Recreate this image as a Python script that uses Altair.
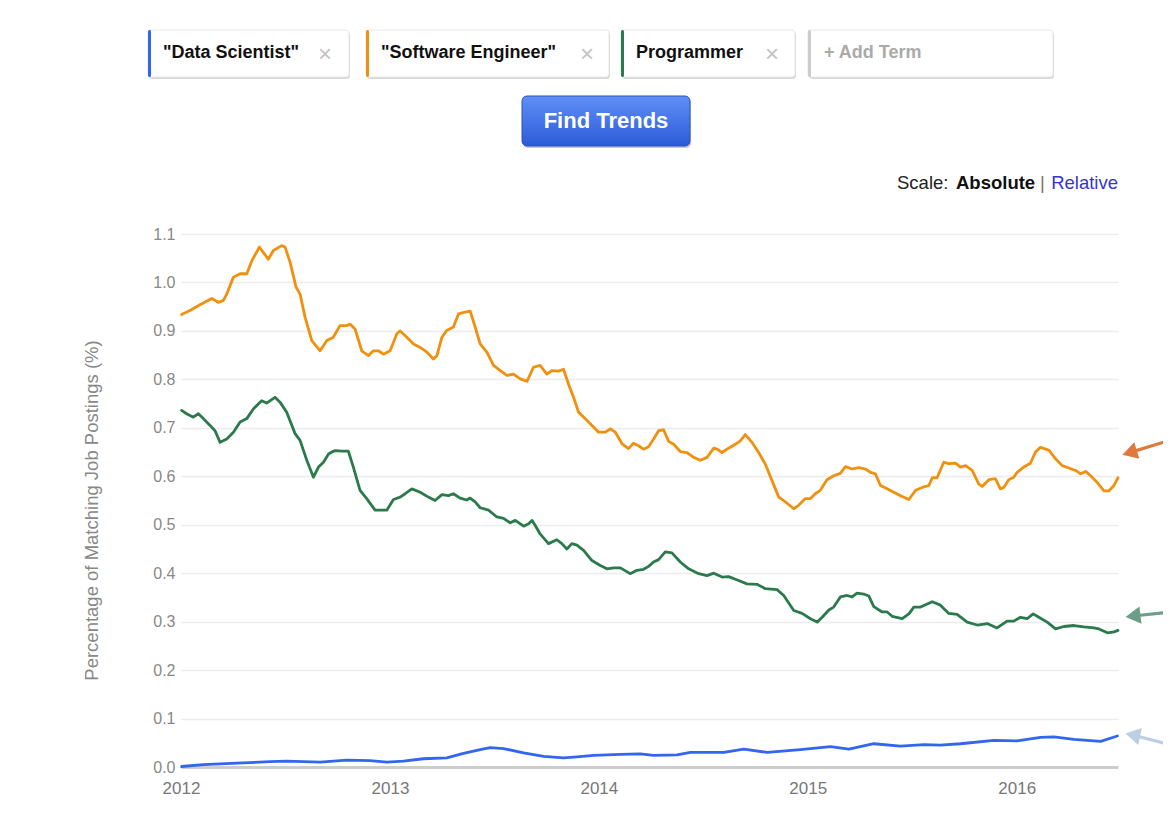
import altair as alt
import pandas as pd

FONT = "Liberation Sans"

# ---------------- data ----------------
terms = ['"Data Scientist"', '"Software Engineer"', 'Programmer']
term_colors = ["#3366ee", "#f0900f", "#2b7a4b"]

ds_year = [2012.003, 2012.107, 2012.267, 2012.426, 2012.506, 2012.666, 2012.794, 2012.905,
           2012.985, 2013.065, 2013.160, 2013.272, 2013.352, 2013.432, 2013.480, 2013.544,
           2013.640, 2013.736, 2013.831, 2013.895, 2013.975, 2014.103, 2014.198, 2014.262,
           2014.374, 2014.438, 2014.598, 2014.694, 2014.806, 2014.965, 2015.109, 2015.197,
           2015.316, 2015.444, 2015.556, 2015.635, 2015.731, 2015.891, 2016.002, 2016.114,
           2016.178, 2016.274, 2016.402, 2016.482]
ds_val = [0.001, 0.005, 0.008, 0.011, 0.012, 0.010, 0.014, 0.013,
          0.010, 0.012, 0.017, 0.019, 0.028, 0.036, 0.040, 0.038,
          0.029, 0.022, 0.019, 0.021, 0.024, 0.026, 0.027, 0.024,
          0.025, 0.030, 0.030, 0.037, 0.030, 0.036, 0.042, 0.037,
          0.048, 0.043, 0.046, 0.045, 0.048, 0.055, 0.054, 0.061,
          0.062, 0.057, 0.053, 0.064]

se_year = [2012.003, 2012.043, 2012.091, 2012.147, 2012.179, 2012.203, 2012.219, 2012.251,
           2012.283, 2012.315, 2012.338, 2012.375, 2012.418, 2012.442, 2012.482, 2012.498,
           2012.522, 2012.551, 2012.570, 2012.594, 2012.626, 2012.666, 2012.698, 2012.729,
           2012.761, 2012.794, 2012.809, 2012.833, 2012.865, 2012.897, 2012.921, 2012.945,
           2012.969, 2013.001, 2013.033, 2013.049, 2013.081, 2013.113, 2013.145, 2013.177,
           2013.208, 2013.225, 2013.249, 2013.272, 2013.304, 2013.328, 2013.360, 2013.384,
           2013.408, 2013.432, 2013.464, 2013.496, 2013.528, 2013.560, 2013.591, 2013.624,
           2013.656, 2013.687, 2013.719, 2013.751, 2013.775, 2013.807, 2013.831, 2013.855,
           2013.879, 2013.903, 2013.935, 2013.967, 2013.999, 2014.031, 2014.055, 2014.079,
           2014.111, 2014.142, 2014.166, 2014.190, 2014.214, 2014.238, 2014.262, 2014.286,
           2014.310, 2014.334, 2014.358, 2014.390, 2014.422, 2014.454, 2014.486, 2014.518,
           2014.550, 2014.566, 2014.590, 2014.621, 2014.653, 2014.677, 2014.701, 2014.733,
           2014.765, 2014.797, 2014.829, 2014.861, 2014.893, 2014.933, 2014.956, 2014.989,
           2015.013, 2015.036, 2015.060, 2015.092, 2015.124, 2015.156, 2015.180, 2015.212,
           2015.244, 2015.276, 2015.300, 2015.324, 2015.348, 2015.380, 2015.412, 2015.444,
           2015.484, 2015.516, 2015.548, 2015.580, 2015.596, 2015.619, 2015.651, 2015.675,
           2015.707, 2015.731, 2015.755, 2015.787, 2015.819, 2015.835, 2015.867, 2015.898,
           2015.922, 2015.938, 2015.962, 2015.986, 2016.002, 2016.034, 2016.066, 2016.090,
           2016.114, 2016.138, 2016.154, 2016.186, 2016.218, 2016.250, 2016.282, 2016.306,
           2016.330, 2016.354, 2016.386, 2016.418, 2016.442, 2016.466, 2016.485]
se_val = [0.934, 0.942, 0.954, 0.967, 0.959, 0.963, 0.976, 1.011,
          1.018, 1.018, 1.044, 1.073, 1.048, 1.066, 1.076, 1.073,
          1.042, 0.990, 0.976, 0.928, 0.880, 0.859, 0.880, 0.887,
          0.911, 0.911, 0.914, 0.904, 0.859, 0.849, 0.859, 0.859,
          0.852, 0.859, 0.894, 0.900, 0.887, 0.873, 0.866, 0.856,
          0.842, 0.849, 0.887, 0.901, 0.908, 0.935, 0.939, 0.941,
          0.908, 0.873, 0.856, 0.829, 0.818, 0.808, 0.811, 0.801,
          0.796, 0.825, 0.829, 0.811, 0.818, 0.817, 0.821, 0.790,
          0.763, 0.732, 0.719, 0.705, 0.691, 0.691, 0.698, 0.691,
          0.667, 0.657, 0.668, 0.663, 0.656, 0.661, 0.677, 0.694,
          0.696, 0.672, 0.666, 0.651, 0.649, 0.639, 0.633, 0.639,
          0.658, 0.656, 0.649, 0.658, 0.666, 0.673, 0.686, 0.670,
          0.649, 0.625, 0.591, 0.557, 0.547, 0.533, 0.540, 0.554,
          0.554, 0.564, 0.571, 0.593, 0.601, 0.606, 0.620, 0.615,
          0.618, 0.615, 0.608, 0.605, 0.581, 0.574, 0.567, 0.560,
          0.552, 0.571, 0.577, 0.581, 0.597, 0.597, 0.629, 0.626,
          0.627, 0.619, 0.622, 0.612, 0.584, 0.579, 0.593, 0.595,
          0.574, 0.577, 0.593, 0.598, 0.608, 0.619, 0.627, 0.650,
          0.660, 0.656, 0.654, 0.636, 0.622, 0.617, 0.612, 0.605,
          0.610, 0.601, 0.587, 0.570, 0.570, 0.581, 0.597]

pg_year = [2012.003, 2012.027, 2012.059, 2012.083, 2012.107, 2012.139, 2012.163, 2012.187,
           2012.219, 2012.251, 2012.283, 2012.315, 2012.346, 2012.386, 2012.410, 2012.450,
           2012.474, 2012.506, 2012.546, 2012.570, 2012.602, 2012.634, 2012.658, 2012.682,
           2012.706, 2012.722, 2012.738, 2012.770, 2012.801, 2012.825, 2012.857, 2012.889,
           2012.929, 2012.985, 2013.017, 2013.049, 2013.073, 2013.105, 2013.145, 2013.184,
           2013.216, 2013.249, 2013.280, 2013.304, 2013.336, 2013.368, 2013.384, 2013.408,
           2013.432, 2013.472, 2013.512, 2013.544, 2013.576, 2013.600, 2013.640, 2013.664,
           2013.680, 2013.695, 2013.719, 2013.759, 2013.799, 2013.823, 2013.847, 2013.871,
           2013.895, 2013.927, 2013.967, 2014.007, 2014.039, 2014.071, 2014.103, 2014.150,
           2014.182, 2014.214, 2014.238, 2014.262, 2014.286, 2014.318, 2014.350, 2014.390,
           2014.430, 2014.478, 2014.518, 2014.550, 2014.590, 2014.621, 2014.669, 2014.709,
           2014.757, 2014.797, 2014.853, 2014.885, 2014.933, 2014.973, 2015.013, 2015.045,
           2015.069, 2015.101, 2015.124, 2015.156, 2015.188, 2015.212, 2015.236, 2015.268,
           2015.292, 2015.316, 2015.356, 2015.380, 2015.404, 2015.452, 2015.484, 2015.508,
           2015.540, 2015.596, 2015.635, 2015.675, 2015.715, 2015.763, 2015.811, 2015.859,
           2015.906, 2015.954, 2015.986, 2016.018, 2016.050, 2016.079, 2016.114, 2016.146,
           2016.186, 2016.226, 2016.274, 2016.322, 2016.370, 2016.394, 2016.434, 2016.466,
           2016.485]
pg_val = [0.736, 0.729, 0.722, 0.729, 0.719, 0.705, 0.694, 0.670,
          0.677, 0.691, 0.712, 0.719, 0.739, 0.756, 0.751, 0.763,
          0.753, 0.732, 0.688, 0.674, 0.633, 0.598, 0.619, 0.629,
          0.646, 0.650, 0.653, 0.652, 0.652, 0.619, 0.571, 0.554,
          0.530, 0.530, 0.552, 0.557, 0.564, 0.574, 0.567, 0.557,
          0.550, 0.562, 0.560, 0.564, 0.555, 0.551, 0.555, 0.547,
          0.535, 0.530, 0.516, 0.513, 0.504, 0.509, 0.497, 0.502,
          0.509, 0.499, 0.481, 0.461, 0.469, 0.461, 0.450, 0.461,
          0.458, 0.447, 0.426, 0.416, 0.409, 0.411, 0.411, 0.399,
          0.406, 0.408, 0.414, 0.423, 0.428, 0.444, 0.442, 0.423,
          0.409, 0.399, 0.395, 0.400, 0.392, 0.393, 0.385, 0.378,
          0.377, 0.368, 0.366, 0.354, 0.323, 0.317, 0.306, 0.299,
          0.309, 0.324, 0.330, 0.351, 0.354, 0.351, 0.359, 0.357,
          0.353, 0.331, 0.320, 0.320, 0.311, 0.306, 0.316, 0.330,
          0.330, 0.341, 0.334, 0.317, 0.315, 0.299, 0.293, 0.296,
          0.287, 0.301, 0.301, 0.309, 0.306, 0.316, 0.307, 0.299,
          0.285, 0.290, 0.292, 0.289, 0.287, 0.285, 0.277, 0.279,
          0.282]

x_ticks = [2012, 2013, 2014, 2015, 2016]
y_ticks = [0.0, 0.1, 0.2, 0.3, 0.4, 0.5, 0.6, 0.7, 0.8, 0.9, 1.0, 1.1]
x_domain = [2012, 2016.485]
y_domain = [0, 1.1]

# ---------------- table ----------------
df = pd.concat([
    pd.DataFrame({"year": ds_year, "value": ds_val, "term": terms[0]}),
    pd.DataFrame({"year": se_year, "value": se_val, "term": terms[1]}),
    pd.DataFrame({"year": pg_year, "value": pg_val, "term": terms[2]}),
], ignore_index=True)

W, H = 937, 533

lines = alt.Chart(df).mark_line(strokeWidth=2.8, strokeJoin="round", strokeCap="round").encode(
    x=alt.X("year:Q", scale=alt.Scale(domain=x_domain, nice=False, zero=False),
            axis=alt.Axis(values=x_ticks, format="d", title=None, grid=False,
                          ticks=False, tickSize=0, domain=True, domainColor="#cccccc",
                          domainWidth=3, labelColor="#777777", labelFontSize=17,
                          labelPadding=13, labelFont=FONT, labelFlush=False,
                          labelOverlap=False)),
    y=alt.Y("value:Q", scale=alt.Scale(domain=y_domain, nice=False),
            axis=alt.Axis(values=y_ticks, format=".1f",
                          title="Percentage of Matching Job Postings (%)",
                          grid=True, gridColor="#ececec", gridWidth=1.5,
                          domain=False, ticks=False, tickSize=0,
                          labelColor="#888888", labelFontSize=16, labelPadding=6,
                          labelFont=FONT, labelFlush=False,
                          titleFont=FONT, titleFontSize=18.5, titleFontWeight="normal",
                          titleColor="#888888", titleAngle=270, titleAlign="center",
                          titleBaseline="alphabetic", titleX=-84, titleY=276)),
    color=alt.Color("term:N", scale=alt.Scale(domain=terms, range=term_colors), legend=None),
)

ONE = pd.DataFrame({"k": [0]})


def rect(x1, y1, x2, y2, fill, stroke=None, radius=0, sw=1, opacity=1):
    kw = dict(fill=fill, cornerRadius=radius, opacity=opacity)
    if stroke:
        kw.update(stroke=stroke, strokeWidth=sw)
    return alt.Chart(ONE).mark_rect(**kw).encode(
        x=alt.value(x1), x2=alt.value(x2), y=alt.value(y1), y2=alt.value(y2))


def label(txt, x, y, size, color, weight="normal", align="left", baseline="middle"):
    return alt.Chart(ONE).mark_text(fontSize=size, color=color, fontWeight=weight,
                                    align=align, baseline=baseline, font=FONT).encode(
        x=alt.value(x), y=alt.value(y), text=alt.value(txt))


def arrow(tail, center, angle, color):
    shaft = alt.Chart(ONE).mark_rule(color=color, strokeWidth=3.2).encode(
        x=alt.value(tail[0]), x2=alt.value(center[0]),
        y=alt.value(tail[1]), y2=alt.value(center[1]))
    head = alt.Chart(ONE).mark_point(shape="triangle-left", filled=True, size=300,
                                     angle=angle, color=color, opacity=1).encode(
        x=alt.value(center[0]), y=alt.value(center[1]))
    return [shaft, head]


deco = []
# term boxes (page coords minus plot origin 181,234)
boxes = [(-33, 168, term_colors[0], terms[0], 144),
         (185, 428, term_colors[1], terms[1], 406),
         (440, 614, term_colors[2], terms[2], 591),
         (627, 872, "#cccccc", None, None)]
for x1, x2, col, txt, xpos in boxes:
    deco.append(rect(x1 + 1, -202, x2 + 1, -155, "#d9d9d9", radius=3))
    deco.append(rect(x1, -204, x2, -157, "#ffffff", stroke="#e6e6e6", radius=3))
    deco.append(rect(x1, -204, x1 + 3, -157, col, radius=2))
    if txt:
        deco.append(label(txt, x1 + 15, -181, 18, "#111111", weight="bold"))
        deco.append(label("\u00d7", xpos, -179, 24, "#c4c4c4", align="center"))
    else:
        deco.append(label("+ Add Term", x1 + 16, -181, 18, "#aaaaaa", weight="bold"))

# Find Trends button
grad = alt.LinearGradient(gradient="linear", x1=0, y1=0, x2=0, y2=1,
                          stops=[alt.GradientStop(color="#5f8ff6", offset=0),
                                 alt.GradientStop(color="#2c5bd8", offset=1)])
deco.append(rect(342, -136, 510, -86, "#c9c9d6", radius=5))
deco.append(alt.Chart(ONE).mark_rect(color=grad, cornerRadius=5, stroke="#2a52bd",
                                     strokeWidth=1).encode(
    x=alt.value(341), x2=alt.value(509), y=alt.value(-138), y2=alt.value(-88)))
deco.append(label("Find Trends", 425, -113, 22, "#ffffff", weight="bold", align="center"))

# Scale: Absolute | Relative
deco.append(label("Scale:", 716, -51, 18.5, "#222222"))
deco.append(label("Absolute", 775, -51, 18.5, "#111111", weight="bold"))
deco.append(label("|", 859, -51, 18.5, "#8a6a5a"))
deco.append(label("Relative", 937, -51, 18.5, "#3535d0", align="right"))

# annotation arrows at the right edge
deco += arrow((990, 206), (948.6, 218.6), 343, "#e07a3c")
deco += arrow((990, 378), (952, 382), 353, "#6d9e8a")
deco += arrow((990, 511), (951.7, 501), 12, "#bccfe2")

chart = alt.layer(lines, *deco).properties(
    width=W, height=H,
    autosize=alt.AutoSizeParams(type="none"),
    padding={"left": 173, "top": 226, "right": 45, "bottom": 42},
    background="#ffffff",
).configure(font=FONT).configure_view(stroke=None)

chart.save("out.html", embed_options={"renderer": "svg", "actions": False})
